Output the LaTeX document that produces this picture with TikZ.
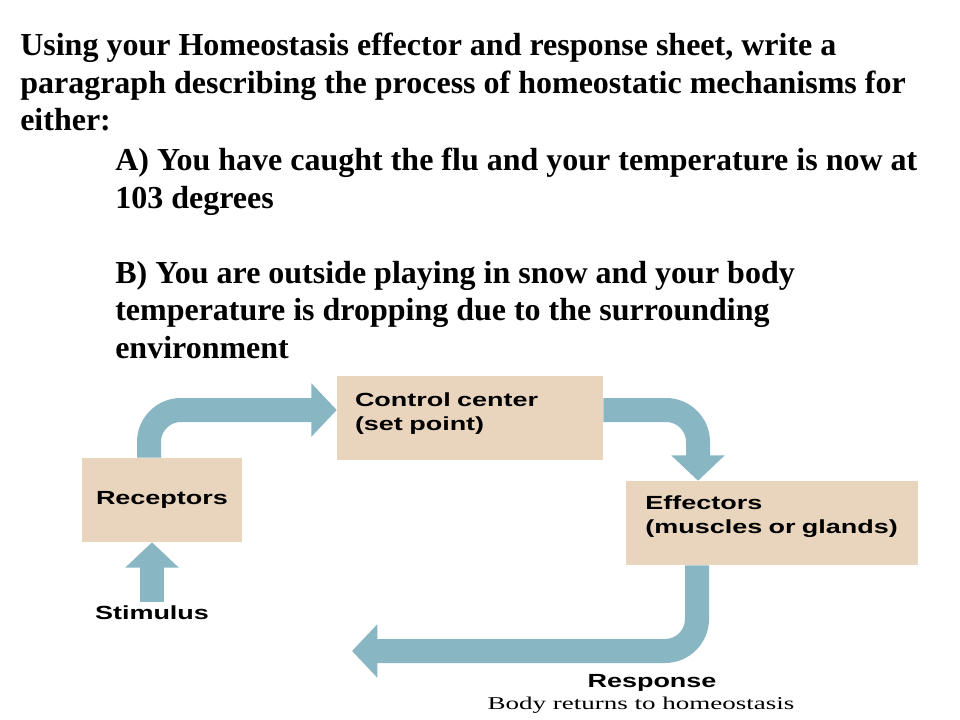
\documentclass[tikz,border=0pt]{standalone}
\usepackage{fontspec}
\usepackage{tikz}
\usetikzlibrary{arrows.meta}
\setmainfont{Liberation Serif}
\newfontfamily\diagfont{Liberation Sans}[UprightFont = * Bold, FakeStretch = 1.42]
\newfontfamily\notefont{Liberation Serif}[FakeStretch = 1.5]

\begin{document}
\begin{tikzpicture}[x = 0.75pt, y = -0.75pt]
            % \draw [help lines, step = 40] (0,0) grid (960,720);
            \useasboundingbox (0,0) rectangle (960,720);

            \definecolor{boxColor}{RGB}{233,213,189};
            \definecolor{flowColor}{RGB}{137,182,195};

            \tikzset{
                box/.style = {fill = boxColor, inner ysep = 0pt, minimum height = 63pt, align = left, font = \diagfont\fontsize{14.25}{18}\selectfont},
                tag/.style = {inner sep = 3pt, font = \diagfont\fontsize{14.25}{18}\selectfont},
                flow/.style = {draw = flowColor, line width = 18pt, rounded corners = 24pt, -{Triangle[width = 39pt, length = 19pt]}},
                task/.style = {anchor = north west, align = left, inner sep = 0pt, font = \bfseries\fontsize{24}{28}\selectfont}
            }

            % the question
            \node [task] (intro) at (20,33) {Using your Homeostasis effector and response sheet, write a\\paragraph describing the process of homeostatic mechanisms for\\either:};
            \node [task] (flu) at (115,148) {A) You have caught the flu and your temperature is now at\\103 degrees};
            \node [task] (snow) at (115,261) {B) You are outside playing in snow and your body\\temperature is dropping due to the surrounding\\environment};

            % the loop
            \node [box, minimum width = 199.5pt, text width = 172.5pt, inner xsep = 13.5pt, text depth = 28pt] (cc) at (470,418) {Control center\\(set point)};
            \node [box, minimum width = 120pt, text width = 99pt, inner xsep = 10.5pt] (rec) at (162,500) {Receptors};
            \node [box, minimum width = 219pt, text width = 190pt, inner xsep = 14.5pt, text depth = 30pt] (eff) at (772,523) {Effectors\\(muscles or glands)};

            \node [tag] (stim) at (152,613) {Stimulus};
            \node [tag] (resp) at (652,683) {Response};
            \node [font = \notefont\fontsize{13.5}{16}\selectfont] (home) at (641,705) {Body returns to homeostasis};
            \coordinate (back) at (352,651);

            \draw [flow] (stim.north) -- (stim.north |- rec.south);
            \draw [flow] ([shift = {(-13,0)}]rec.north) |- ([shift = {(0,-8)}]cc.west);
            \draw [flow] ([shift = {(0,-8)}]cc.east) -| ([shift = {(-74,0)}]eff.north);
            \draw [flow] ([shift = {(-75,0)}]eff.south) |- (back);

\end{tikzpicture}
\end{document}
